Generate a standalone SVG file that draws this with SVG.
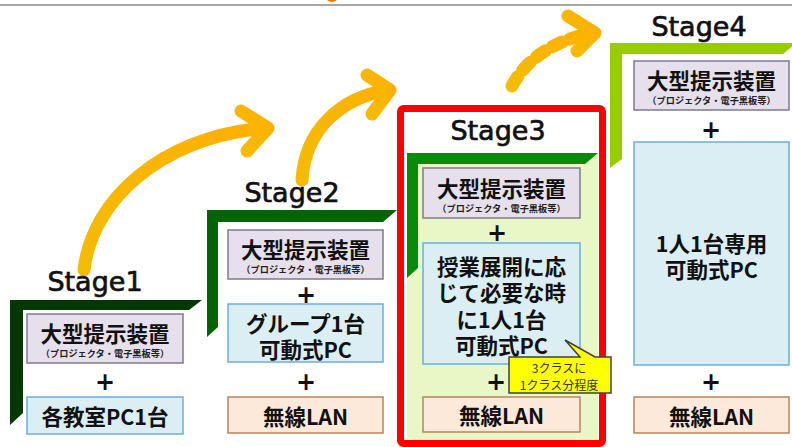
<svg xmlns="http://www.w3.org/2000/svg" width="792" height="447" viewBox="0 0 792 447">
<defs>
<linearGradient id="og" x1="0" y1="1" x2="1" y2="0">
<stop offset="0" stop-color="#f4bb00"/>
<stop offset="1" stop-color="#ffb000"/>
</linearGradient>
<style>
.stage{font-family:"DejaVu Sans","Noto Sans",sans-serif;font-size:27px;fill:#111;stroke:#111;stroke-width:0.7px;text-anchor:middle}
.main{font-family:"Noto Sans CJK JP","Noto Sans",sans-serif;font-weight:bold;font-size:21.5px;fill:#111;text-anchor:middle;dominant-baseline:central}
.sub{font-family:"Noto Sans CJK JP",sans-serif;font-weight:bold;font-size:9.2px;fill:#222;text-anchor:middle;dominant-baseline:central}
.plus{font-family:"DejaVu Sans",sans-serif;font-weight:bold;font-size:24px;fill:#111;text-anchor:middle;dominant-baseline:central}
.lav{fill:#e6e0ec;stroke:#7f7a90;stroke-width:1.5}
.blu{fill:#daeef3;stroke:#6aaee0;stroke-width:1.5}
.pch{fill:#fde9d9;stroke:#b8845a;stroke-width:1.5}
.arr{fill:none;stroke:url(#og);stroke-width:13;stroke-linecap:round;stroke-linejoin:round}
.call{font-family:"Noto Sans CJK JP",sans-serif;font-size:12px;fill:#333;text-anchor:middle;dominant-baseline:central}
</style>
</defs>
<rect width="792" height="447" fill="#fff"/>
<line x1="0" y1="5" x2="792" y2="5" stroke="#888" stroke-width="1.5"/>
<ellipse cx="332" cy="-3" rx="6" ry="5" fill="#f07800"/>

<g id="connectors">
<path class="arr" d="M84 270 C92 200 160 138 264 128"/>
<polyline class="arr" points="241,111 268,128 247,151"/>
<path class="arr" d="M302 180 C305 130 340 98 388 90"/>
<polyline class="arr" points="367,75 390,90 372,114"/>
<path class="arr" d="M512 86 C528 56 558 40 592 33" stroke-linecap="butt" stroke-dasharray="11 8"/>
<polyline class="arr" points="568,16 595,33 577,51"/>
</g>

<g id="stage1">
<text class="stage" x="95" y="291">Stage1</text>
<polygon points="10,300 202,300 189,310 23,310 23,413 10,425" fill="#063806"/>
<rect class="lav" x="27" y="314" width="156" height="49"/>
<text class="main" x="105" y="332.5">大型提示装置</text>
<text class="sub" x="105" y="353">（プロジェクタ・電子黒板等）</text>
<text class="plus" x="105" y="382">+</text>
<rect class="blu" x="27" y="397" width="156" height="37"/>
<text class="main" x="105" y="415.5">各教室PC1台</text>
</g>

<g id="stage2">
<text class="stage" x="292" y="202">Stage2</text>
<polygon points="207,210 397,210 383,222 218,222 218,327 207,337" fill="#006400"/>
<rect class="lav" x="228" y="230" width="155" height="49"/>
<text class="main" x="305.5" y="248.5">大型提示装置</text>
<text class="sub" x="305.5" y="269">（プロジェクタ・電子黒板等）</text>
<text class="plus" x="306" y="295">+</text>
<rect class="blu" x="228" y="304" width="155" height="58"/>
<text class="main" x="305.5" y="322.5">グループ1台</text>
<text class="main" x="305.5" y="348">可動式PC</text>
<text class="plus" x="306" y="382">+</text>
<rect class="pch" x="228" y="397" width="155" height="36"/>
<text class="main" x="305.5" y="415">無線LAN</text>
</g>

<g id="stage3">
<rect x="407" y="153" width="191" height="287" fill="#e9f7c6"/>
<rect x="400.5" y="108.5" width="202" height="335" rx="3" fill="none" stroke="#ff0000" stroke-width="7"/>
<text class="stage" x="498" y="140">Stage3</text>
<polygon points="407,153 598,153 585,164 418,164 418,268 407,278" fill="#0a8a0a"/>
<rect class="lav" x="423" y="168" width="157" height="50"/>
<text class="main" x="501.5" y="187">大型提示装置</text>
<text class="sub" x="501.5" y="208">（プロジェクタ・電子黒板等）</text>
<text class="plus" x="497" y="233">+</text>
<rect class="blu" x="423" y="243" width="157" height="121"/>
<text class="main" x="501.5" y="265">授業展開に応</text>
<text class="main" x="501.5" y="291.5">じて必要な時</text>
<text class="main" x="501.5" y="318">に1人1台</text>
<text class="main" x="501.5" y="344.5">可動式PC</text>
<text class="plus" x="496" y="382">+</text>
<rect class="pch" x="423" y="397" width="157" height="35"/>
<text class="main" x="501.5" y="414.5">無線LAN</text>
</g>

<g id="callout">
<path d="M509,357 L580,357 L565,340 L595,357 L611,357 L611,393 L509,393 Z" fill="#ffff00" stroke="#404040" stroke-width="1.5"/>
<text class="call" x="559" y="367">3クラスに</text>
<text class="call" x="559" y="384">1クラス分程度</text>
</g>

<g id="stage4">
<text class="stage" x="699" y="36">Stage4</text>
<polygon points="610,43 796,43 783,54 622,54 622,159 610,168" fill="#99cc00"/>
<rect class="lav" x="634" y="61" width="155" height="49"/>
<text class="main" x="711.5" y="79.5">大型提示装置</text>
<text class="sub" x="711.5" y="100">（プロジェクタ・電子黒板等）</text>
<text class="plus" x="711" y="130">+</text>
<rect class="blu" x="634" y="142" width="155" height="223"/>
<text class="main" x="711.5" y="242">1人1台専用</text>
<text class="main" x="711.5" y="268">可動式PC</text>
<text class="plus" x="711" y="382">+</text>
<rect class="pch" x="634" y="397" width="155" height="36"/>
<text class="main" x="711.5" y="415">無線LAN</text>
</g>
</svg>
